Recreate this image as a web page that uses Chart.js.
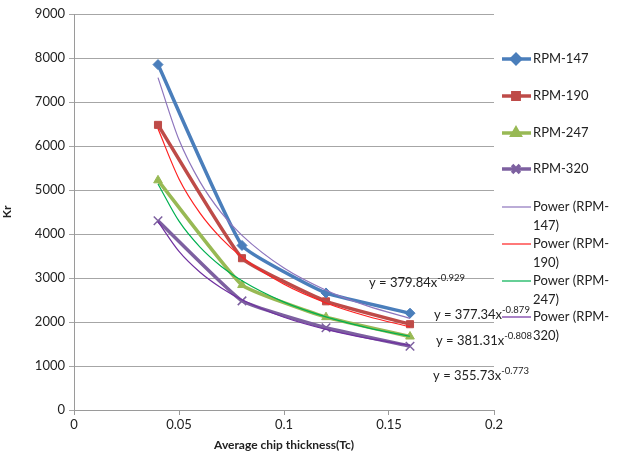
<!DOCTYPE html>
<html>
<head>
<meta charset="utf-8">
<script src="https://cdn.jsdelivr.net/npm/chart.js@4"></script>
<style>
  html, body { margin: 0; padding: 0; background: #fff; }
  #wrap { width: 618px; height: 452px; position: relative; }
</style>
</head>
<body>
<div id="wrap"><canvas id="chart"></canvas></div>
<script>
const X_VALUES = [0.04, 0.08, 0.12, 0.16];
const RPM_147 = [7850, 3740, 2660, 2200];
const RPM_190 = [6480, 3450, 2470, 1950];
const RPM_247 = [5220, 2840, 2110, 1670];
const RPM_320 = [4300, 2480, 1870, 1450];

const TREND_X = [0.04, 0.05, 0.06, 0.07, 0.08, 0.10, 0.12, 0.14, 0.16];
const TREND_147 = [7555, 6141, 5184, 4492, 3968, 3225, 2723, 2360, 2084];
const TREND_190 = [6390, 5252, 4475, 3907, 3475, 2856, 2433, 2125, 1889];
const TREND_247 = [5138, 4291, 3703, 3269, 2935, 2451, 2115, 1867, 1676];
const TREND_320 = [4283, 3604, 3131, 2779, 2506, 2109, 1832, 1626, 1467];

const EQUATIONS = [
  { base: "y = 379.84x", exp: "-0.929" },
  { base: "y = 377.34x", exp: "-0.879" },
  { base: "y = 381.31x", exp: "-0.808" },
  { base: "y = 355.73x", exp: "-0.773" },
];

const X_TICKS = [0, 0.05, 0.1, 0.15, 0.2];
const Y_TICKS = [0, 1000, 2000, 3000, 4000, 5000, 6000, 7000, 8000, 9000];

const FONT = "Lato, 'Open Sans', 'Liberation Sans', sans-serif";
const TEXT = "#222";

const pts = (xs, ys) => xs.map((x, i) => ({ x, y: ys[i] }));

function dataSeries(label, values, color, style, radius) {
  return {
    label,
    data: pts(X_VALUES, values),
    borderColor: color,
    backgroundColor: color,
    borderWidth: 3.5,
    tension: 0.12,
    pointStyle: style,
    pointRadius: radius,
    pointBorderWidth: style === "crossRot" ? 1.5 : 1,
    order: 1,
    legendLines: [label],
  };
}

function trendSeries(name, values, color) {
  return {
    label: "Power (" + name + ")",
    data: pts(TREND_X, values),
    borderColor: color,
    backgroundColor: color,
    borderWidth: 1.2,
    cubicInterpolationMode: "monotone",
    pointRadius: 0,
    order: 0,
    legendLines: ["Power (RPM-", name.replace("RPM-", "") + ")"],
  };
}

const datasets = [
  dataSeries("RPM-147", RPM_147, "#4a7ebb", "rectRot", 5),
  dataSeries("RPM-190", RPM_190, "#be4b48", "rect", 5),
  dataSeries("RPM-247", RPM_247, "#98b954", "triangle", 5),
  dataSeries("RPM-320", RPM_320, "#7d60a0", "crossRot", 6),
  trendSeries("RPM-147", TREND_147, "#8e75bd"),
  trendSeries("RPM-190", TREND_190, "#ff2020"),
  trendSeries("RPM-247", TREND_247, "#00b050"),
  trendSeries("RPM-320", TREND_320, "#7030a0"),
];

// Legenda rechts, met regelafbreking zoals in het origineel
const sideLegend = {
  id: "sideLegend",
  afterDraw(chart) {
    const ctx = chart.ctx;
    const rowsY = [59, 96, 133, 169, 207, 244, 281, 317];
    ctx.save();
    ctx.textBaseline = "middle";
    chart.data.datasets.forEach((ds, i) => {
      const y = rowsY[i];
      ctx.strokeStyle = ds.borderColor;
      ctx.lineWidth = ds.borderWidth;
      ctx.beginPath();
      ctx.moveTo(502, y);
      ctx.lineTo(531, y);
      ctx.stroke();
      if (ds.pointRadius > 0) {
        ctx.fillStyle = ds.backgroundColor;
        ctx.strokeStyle = ds.borderColor;
        Chart.helpers.drawPoint(ctx, {
          pointStyle: ds.pointStyle,
          radius: ds.pointRadius - 0.5,
          rotation: 0,
          borderWidth: ds.pointBorderWidth,
        }, 516, y);
      }
      ctx.font = "13px " + FONT;
      ctx.fillStyle = TEXT;
      ds.legendLines.forEach((t, k) => ctx.fillText(t, 533, y + k * 19));
    });
    ctx.restore();
  }
};

// Vergelijkingen van de trendlijnen
const equationLabels = {
  id: "equationLabels",
  afterDraw(chart) {
    const ctx = chart.ctx;
    const xs = chart.scales.x, ys = chart.scales.y;
    const anchors = [[0.1405, 2886], [0.1714, 2159], [0.1724, 1568], [0.171, 773]];
    ctx.save();
    ctx.fillStyle = TEXT;
    ctx.textBaseline = "middle";
    EQUATIONS.forEach((eq, i) => {
      const px = xs.getPixelForValue(anchors[i][0]);
      const py = ys.getPixelForValue(anchors[i][1]);
      ctx.font = "13px " + FONT;
      ctx.fillText(eq.base, px, py);
      const w = ctx.measureText(eq.base).width;
      ctx.font = "9.5px " + FONT;
      ctx.fillText(eq.exp, px + w, py - 5);
    });
    ctx.restore();
  }
};

new Chart(document.getElementById("chart"), {
  type: "line",
  data: { datasets },
  plugins: [sideLegend, equationLabels],
  options: {
    responsive: true,
    maintainAspectRatio: false,
    animation: false,
    layout: { padding: { top: 14, right: 124, left: 0, bottom: 0 } },
    plugins: {
      legend: { display: false },
      tooltip: { enabled: false },
    },
    scales: {
      x: {
        type: "linear",
        min: 0,
        max: 0.2,
        afterBuildTicks: s => { s.ticks = X_TICKS.map(v => ({ value: v })); },
        afterFit: s => { s.height = 42; },
        grid: { drawOnChartArea: false, drawTicks: true, tickLength: 5, color: "#9a9a9a" },
        border: { color: "#9a9a9a" },
        ticks: {
          color: TEXT,
          font: { family: FONT, size: 13 },
          padding: 2,
          maxRotation: 0,
          callback: v => String(Number(v.toFixed(2))),
        },
        title: {
          display: true,
          text: "Average chip thickness(Tc)",
          color: TEXT,
          font: { family: FONT, size: 12, weight: "bold" },
          padding: { top: -3, bottom: 0 },
        },
      },
      y: {
        min: 0,
        max: 9000,
        afterBuildTicks: s => { s.ticks = Y_TICKS.map(v => ({ value: v })); },
        afterFit: s => { s.width = 74; },
        grid: { color: "#a6a6a6", tickLength: 5, lineWidth: 1 },
        border: { color: "#9a9a9a" },
        ticks: {
          color: TEXT,
          font: { family: FONT, size: 13 },
          padding: 4,
          callback: v => String(v),
        },
        title: {
          display: true,
          text: "Kr",
          color: TEXT,
          font: { family: FONT, size: 12, weight: "bold" },
          padding: { top: 0, bottom: 10 },
        },
      },
    },
  },
});
</script>
</body>
</html>
